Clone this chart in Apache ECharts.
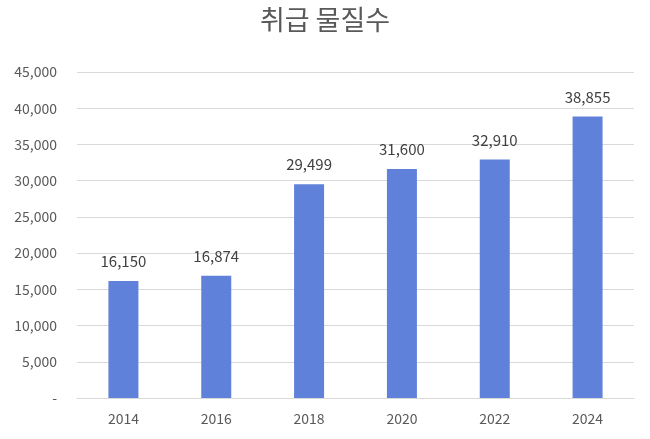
<!DOCTYPE html>
<html>
<head>
<meta charset="utf-8">
<script src="https://cdn.jsdelivr.net/npm/echarts@6/dist/echarts.min.js"></script>
<style>
  html, body { margin: 0; padding: 0; background: #fff; }
  #chart { width: 650px; height: 439px; }
</style>
</head>
<body>
<div id="chart"></div>
<script>
  const years = ["2014", "2016", "2018", "2020", "2022", "2024"];
  const counts = [16150, 16874, 29499, 31600, 32910, 38855];
  const yTicks = [0, 5000, 10000, 15000, 20000, 25000, 30000, 35000, 40000, 45000];

  const fontFamily = "'Noto Sans CJK KR', 'Open Sans', sans-serif";
  const fmt = (v) => (v === 0 ? "-" : v.toLocaleString("en-US"));

  const chart = echarts.init(document.getElementById("chart"));
  chart.setOption({
    animation: false,
    title: {
      text: "취급 물질수",
      left: "center",
      top: 1,
      textStyle: {
        fontFamily: fontFamily,
        fontSize: 27,
        fontWeight: "normal",
        color: "#595959",
      },
    },
    grid: {
      left: 77,
      right: 16,
      top: 72,
      bottom: 41,
    },
    xAxis: {
      type: "category",
      data: years,
      axisTick: { show: false },
      axisLine: { lineStyle: { color: "#d9d9d9", width: 1 } },
      axisLabel: {
        fontFamily: fontFamily,
        fontSize: 14,
        color: "#595959",
        margin: 14,
      },
    },
    yAxis: {
      type: "value",
      min: yTicks[0],
      max: yTicks[yTicks.length - 1],
      interval: 5000,
      axisLine: { show: false },
      axisTick: { show: false },
      splitLine: { lineStyle: { color: "#d9d9d9", width: 1 } },
      axisLabel: {
        fontFamily: fontFamily,
        fontSize: 14,
        color: "#595959",
        margin: 20,
        formatter: fmt,
      },
    },
    series: [
      {
        type: "bar",
        data: counts,
        barWidth: 30,
        itemStyle: { color: "#6081d9" },
        label: {
          show: true,
          position: "top",
          distance: 12,
          fontFamily: fontFamily,
          fontSize: 15,
          color: "#404040",
          formatter: (p) => fmt(p.value),
        },
      },
    ],
  });
</script>
</body>
</html>
